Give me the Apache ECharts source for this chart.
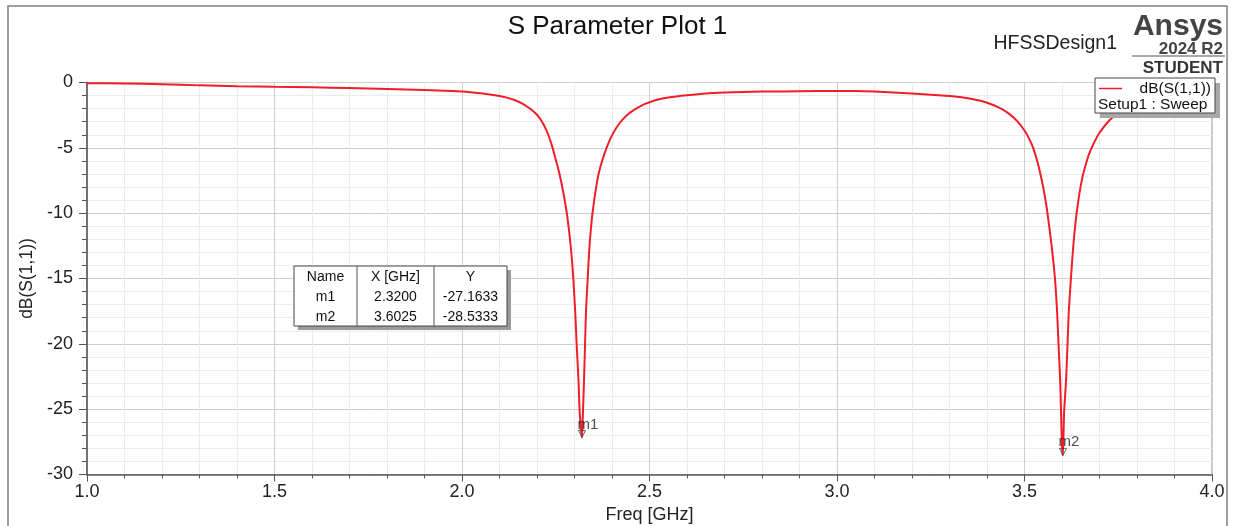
<!DOCTYPE html>
<html>
<head>
<meta charset="utf-8">
<title>S Parameter Plot 1</title>
<script src="https://cdn.jsdelivr.net/npm/echarts@6/dist/echarts.min.js"></script>
<style>
  html, body { margin: 0; padding: 0; background: #fff; }
  #J_chart { width: 1235px; height: 526px; }
</style>
</head>
<body>
<div id="J_chart"></div>
<script>
// sweep values
const freq = [
    1.00, 1.10, 1.20, 1.30, 1.40, 1.50, 1.60, 1.70, 1.80, 1.90,
    2.00, 2.05, 2.10, 2.12, 2.14, 2.16, 2.18, 2.19, 2.20, 2.21,
    2.22, 2.23, 2.24, 2.25, 2.26, 2.27, 2.28, 2.29, 2.297, 2.302,
    2.306, 2.3105, 2.314, 2.32, 2.3225, 2.3255, 2.328, 2.3305, 2.335, 2.34,
    2.348, 2.361, 2.37, 2.38, 2.39, 2.40, 2.41, 2.42, 2.43, 2.44,
    2.45, 2.46, 2.47, 2.48, 2.49, 2.50, 2.52, 2.55, 2.60, 2.67,
    2.75, 2.85, 2.95, 3.05, 3.10, 3.20, 3.30, 3.32, 3.34, 3.36,
    3.38, 3.40, 3.42, 3.44, 3.46, 3.48, 3.50, 3.51, 3.52, 3.53,
    3.54, 3.55, 3.56, 3.5725, 3.5815, 3.587, 3.591, 3.595, 3.5975, 3.600,
    3.6025, 3.6055, 3.611, 3.6145, 3.618, 3.6235, 3.63, 3.639, 3.653, 3.67,
    3.68, 3.69, 3.70, 3.72, 3.74, 3.76, 3.78, 3.80, 3.85, 3.90,
    3.95, 4.00
];
const s11 = [
    -0.05, -0.07, -0.14, -0.22, -0.28, -0.33, -0.37, -0.42, -0.49, -0.57,
    -0.68, -0.82, -1.03, -1.16, -1.34, -1.6, -1.97, -2.2, -2.47, -2.85,
    -3.35, -4.0, -4.85, -5.9, -7.0, -8.4, -10.1, -12.55, -15.1, -17.6,
    -20.2, -22.7, -25.3, -27.1633, -25.3, -22.7, -20.2, -17.6, -15.1, -12.55,
    -10.0, -7.45, -6.35, -5.44, -4.68, -4.05, -3.54, -3.12, -2.78, -2.5,
    -2.27, -2.07, -1.9, -1.75, -1.62, -1.51, -1.32, -1.15, -0.98, -0.8,
    -0.72, -0.68, -0.65, -0.65, -0.69, -0.85, -1.03, -1.09, -1.16, -1.26,
    -1.38, -1.55, -1.76, -2.04, -2.42, -2.94, -3.67, -4.16, -4.78, -5.61,
    -6.69, -8.04, -9.73, -12.55, -15.1, -17.6, -20.2, -22.7, -25.3, -27.8,
    -28.5333, -25.3, -22.7, -20.2, -17.6, -15.1, -12.55, -10.0, -7.45, -5.65,
    -4.95, -4.35, -3.85, -3.1, -2.55, -2.15, -1.85, -1.6, -1.18, -0.95,
    -0.8, -0.7
];

// markers
const markerNames = ['m1', 'm2'];
const markerX = [2.3200, 3.6025];
const markerY = [-27.1633, -28.5333];

const tableHead = ['Name', 'X [GHz]', 'Y'];

const FONT = 'Liberation Sans, Arial, sans-serif';
const RED = '#f01e28';
const TOP_Z = 100;

function initTable() {
    let x0 = 294, y0 = 266, w = 213, rowH = 20;
    let colX = [294, 357, 434, 507];
    let h = rowH * (markerNames.length + 1);
    let els = [{
        type: 'rect',
        shape: {x: x0 + 4, y: y0 + 4, width: w, height: h},
        style: {fill: '#9a9a9a'}
    }, {
        type: 'rect',
        shape: {x: x0, y: y0, width: w, height: h},
        style: {fill: '#fff', stroke: '#444', lineWidth: 1}
    }];
    [colX[1], colX[2]].forEach(cx => {
        els.push({
            type: 'line',
            shape: {x1: cx, y1: y0, x2: cx, y2: y0 + h},
            style: {stroke: '#555', lineWidth: 1}
        });
    });
    let rows = [tableHead];
    markerNames.forEach((n, i) => {
        rows.push([n, markerX[i].toFixed(4), markerY[i].toFixed(4)]);
    });
    rows.forEach((r, ri) => {
        r.forEach((t, ci) => {
            els.push({
                type: 'text',
                x: (colX[ci] + colX[ci + 1]) / 2,
                y: y0 + rowH * ri + rowH / 2 + 1,
                style: {
                    text: t, fill: '#111', font: '14px ' + FONT,
                    align: 'center', verticalAlign: 'middle'
                }
            });
        });
    });
    return els;
}

function initLegend() {
    return [{
        type: 'rect',
        shape: {x: 1100, y: 83, width: 120, height: 35},
        style: {fill: '#a8a8a8'}
    }, {
        type: 'rect',
        shape: {x: 1095, y: 78, width: 120, height: 35},
        style: {fill: '#fff', stroke: '#444', lineWidth: 1}
    }, {
        type: 'line',
        shape: {x1: 1099, y1: 88.5, x2: 1122, y2: 88.5},
        style: {stroke: RED, lineWidth: 1.5}
    }, {
        type: 'text', x: 1211, y: 88.5,
        style: {text: 'dB(S(1,1))', fill: '#111', font: '15.5px ' + FONT, align: 'right', verticalAlign: 'middle'}
    }, {
        type: 'text', x: 1098, y: 104.5,
        style: {text: 'Setup1 : Sweep', fill: '#111', font: '15.5px ' + FONT, align: 'left', verticalAlign: 'middle'}
    }];
}

function initHeader() {
    return [{
        // outer frame
        type: 'polyline',
        shape: {points: [[8, 530], [8, 6], [1227, 6], [1227, 530]]},
        style: {stroke: '#808080', lineWidth: 1.5, fill: null}
    }, {
        type: 'text', x: 1117, y: 44,
        style: {text: 'HFSSDesign1', fill: '#222', font: '19.5px ' + FONT, align: 'right', verticalAlign: 'middle'}
    }, {
        type: 'text', x: 1223, y: 27,
        style: {text: 'Ansys', fill: '#444', font: 'bold 30px ' + FONT, align: 'right', verticalAlign: 'middle'}
    }, {
        type: 'text', x: 1223, y: 49,
        style: {text: '2024 R2', fill: '#444', font: 'bold 17px ' + FONT, align: 'right', verticalAlign: 'middle'}
    }, {
        type: 'line',
        shape: {x1: 1132, y1: 56, x2: 1225, y2: 56},
        style: {stroke: '#555', lineWidth: 1}
    }, {
        type: 'text', x: 1223, y: 68,
        style: {text: 'STUDENT', fill: '#333', font: 'bold 17px ' + FONT, align: 'right', verticalAlign: 'middle'}
    }];
}

function initChart() {
    let lineData = freq.map((f, i) => [f, s11[i]]);
    let markData = markerNames.map((n, i) => ({name: n, value: [markerX[i], markerY[i]]}));

    // graphic sits above the grid lines
    let graphics = [].concat(initHeader(), initTable(), initLegend());
    graphics.forEach(g => { g.z = TOP_Z; });

    let options = {
        animation: false,
        textStyle: {fontFamily: FONT},
        title: {
            text: 'S Parameter Plot 1',
            left: 'center',
            top: 9,
            textStyle: {fontSize: 26, fontWeight: 'normal', color: '#111', fontFamily: FONT}
        },
        grid: {
            left: 87,
            right: 23,
            top: 82.5,
            bottom: 51.5,
            containLabel: false,
            outerBoundsMode: 'none',
            show: true,
            borderColor: '#8a8a8a',
            borderWidth: 1
        },
        xAxis: {
            type: 'value',
            min: 1,
            max: 4,
            interval: 0.5,
            name: 'Freq [GHz]',
            nameLocation: 'middle',
            nameGap: 31,
            nameTextStyle: {fontSize: 18, color: '#222'},
            axisLine: {show: true, onZero: false, lineStyle: {color: '#555', width: 1.5}},
            axisTick: {show: true, length: 7, lineStyle: {color: '#555'}},
            minorTick: {show: true, splitNumber: 5, length: 4, lineStyle: {color: '#555'}},
            axisLabel: {
                fontSize: 18, color: '#222', margin: 9,
                formatter: v => v.toFixed(1)
            },
            splitLine: {show: true, lineStyle: {color: '#cfcfcf', width: 1}},
            minorSplitLine: {show: true, lineStyle: {color: '#ececec', width: 1}}
        },
        yAxis: {
            type: 'value',
            min: -30,
            max: 0,
            interval: 5,
            name: 'dB(S(1,1))',
            nameLocation: 'middle',
            nameGap: 45,
            nameTextStyle: {fontSize: 17.5, color: '#222'},
            axisLine: {show: true, onZero: false, lineStyle: {color: '#555', width: 1.5}},
            axisTick: {show: true, length: 8, lineStyle: {color: '#555'}},
            minorTick: {show: true, splitNumber: 5, length: 5, lineStyle: {color: '#555'}},
            axisLabel: {fontSize: 18, color: '#222', margin: 14},
            splitLine: {show: true, lineStyle: {color: '#cfcfcf', width: 1}},
            minorSplitLine: {show: true, lineStyle: {color: '#ececec', width: 1}}
        },
        series: [{
            type: 'line',
            name: 'dB(S(1,1))',
            symbol: 'none',
            smooth: 0.2,
            lineStyle: {color: RED, width: 2},
            data: lineData,
            z: 3
        }, {
            type: 'scatter',
            symbol: 'path://M0,0 L10,0 L5,9 Z',
            symbolSize: [7, 7],
            symbolOffset: [0, '-50%'],
            itemStyle: {color: 'rgba(255,255,255,0)', borderColor: '#444', borderWidth: 1},
            label: {
                show: true,
                position: 'top',
                distance: 0,
                offset: [6, 2],
                formatter: p => p.name,
                fontSize: 15,
                color: '#222'
            },
            data: markData,
            z: 4
        }],
        graphic: graphics
    };

    let chart = echarts.init(document.getElementById('J_chart'));
    chart.setOption(options);
}

initChart();
</script>
</body>
</html>
